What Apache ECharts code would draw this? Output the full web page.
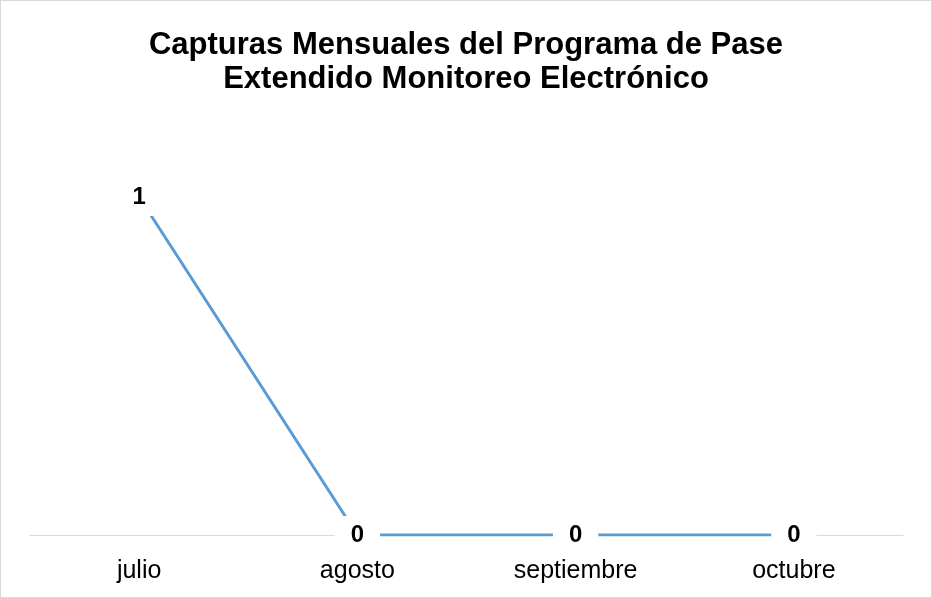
<!DOCTYPE html>
<html>
<head>
<meta charset="utf-8">
<script src="https://cdn.jsdelivr.net/npm/echarts@6/dist/echarts.min.js"></script>
<style>
html,body{margin:0;padding:0;background:#fff;}
#c{width:932px;height:598px;box-sizing:border-box;border:1px solid #d9d9d9;}
</style>
</head>
<body>
<div id="c"></div>
<script>
var categories = ['julio', 'agosto', 'septiembre', 'octubre'];
var values = [1, 0, 0, 0];
var titleLines = ['Capturas Mensuales del Programa de Pase', 'Extendido Monitoreo Electrónico'];

var chart = echarts.init(document.getElementById('c'));
chart.setOption({
  animation: false,
  title: {
    text: titleLines.join('\n'),
    left: 'center',
    top: 22,
    textStyle: {
      fontFamily: 'Liberation Sans, Arial, sans-serif',
      fontWeight: 'bold',
      fontSize: 31,
      lineHeight: 34,
      color: '#000'
    }
  },
  grid: { left: 29, right: 28, top: 196, bottom: 62, containLabel: false },
  xAxis: {
    type: 'category',
    data: categories,
    boundaryGap: true,
    axisLine: { show: true, lineStyle: { color: '#d9d9d9', width: 1 } },
    axisTick: { show: false },
    axisLabel: {
      margin: 24,
      fontFamily: 'Liberation Sans, Arial, sans-serif',
      fontSize: 25,
      color: '#000'
    }
  },
  yAxis: {
    type: 'value',
    min: 0,
    max: 1,
    show: false,
    splitLine: { show: false }
  },
  series: [{
    type: 'line',
    data: values,
    symbol: 'circle',
    symbolSize: 1,
    showSymbol: true,
    itemStyle: { color: '#5B9BD5' },
    lineStyle: { color: '#5B9BD5', width: 3 },
    z: 3,
    label: {
      show: true,
      position: 'inside',
      fontFamily: 'Liberation Sans, Arial, sans-serif',
      fontWeight: 'bold',
      fontSize: 24,
      color: '#000',
      backgroundColor: '#fff',
      padding: [7, 16, 7, 16]
    }
  }]
});
</script>
</body>
</html>
